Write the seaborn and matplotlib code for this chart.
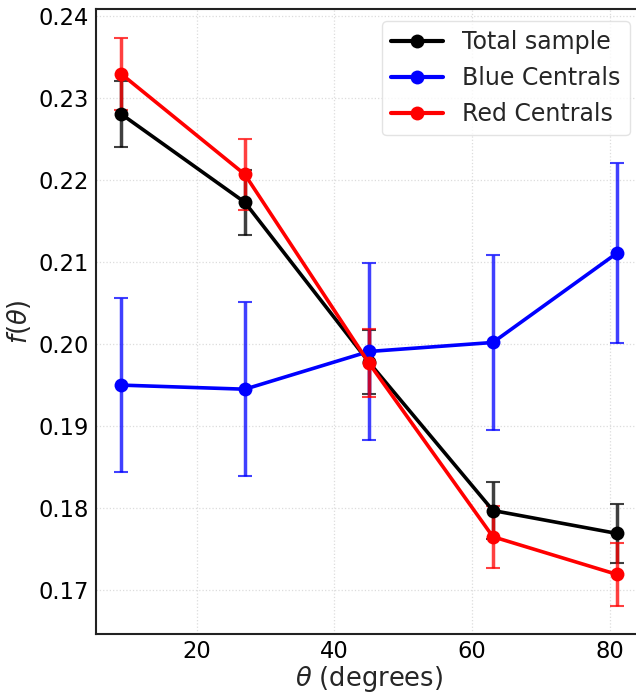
import matplotlib
matplotlib.use("Agg")
import matplotlib.pyplot as plt
import seaborn as sns
import pandas as pd

# Angle bins (degrees) and f(theta) per sample
theta = [9, 27, 45, 63, 81]

total_f = [0.2281, 0.2173, 0.1978, 0.1797, 0.1769]
total_err = [0.0040, 0.0040, 0.0039, 0.0035, 0.0036]

blue_f = [0.1950, 0.1945, 0.1991, 0.2002, 0.2111]
blue_err = [0.0106, 0.0106, 0.0108, 0.0107, 0.0110]

red_f = [0.2330, 0.2207, 0.1977, 0.1765, 0.1719]
red_err = [0.0044, 0.0043, 0.0041, 0.0038, 0.0038]

labels = ["Total sample", "Blue Centrals", "Red Centrals"]
colors = ["black", "blue", "red"]
yticks = [0.17, 0.18, 0.19, 0.20, 0.21, 0.22, 0.23, 0.24]
xticks = [20, 40, 60, 80]

sns.set_theme(style="whitegrid")
plt.rcParams["font.family"] = ["DejaVu Sans"]

frames = []
for lab, f, e in zip(labels, [total_f, blue_f, red_f], [total_err, blue_err, red_err]):
    frames.append(pd.DataFrame({"theta": theta, "f": f, "err": e, "sample": lab}))
df = pd.concat(frames, ignore_index=True)

fig = plt.figure(figsize=(6.36, 6.95), dpi=100)
ax = fig.add_axes([0.151, 0.0878, 0.858, 0.899])

# error bars underneath the lines
for lab, col in zip(labels, colors):
    sub = df[df["sample"] == lab]
    ax.errorbar(sub["theta"], sub["f"], yerr=sub["err"], fmt="none",
                ecolor=col, elinewidth=2.5, capsize=5, capthick=1.5,
                alpha=0.75, zorder=2)

sns.lineplot(data=df, x="theta", y="f", hue="sample", hue_order=labels,
             palette=dict(zip(labels, colors)), marker="o", markersize=10,
             markeredgewidth=0, linewidth=2.6, ax=ax, zorder=3)

ax.set_xlabel(r"$\theta$ (degrees)", fontsize=18.5, labelpad=1)
ax.set_ylabel(r"$f(\theta)$", fontsize=18.5, labelpad=4)
ax.set_xticks(xticks)
ax.set_yticks(yticks)
ax.set_yticklabels([f"{v:.2f}" for v in yticks])
ax.tick_params(axis="both", labelsize=16.3, length=0, colors="black")
ax.tick_params(axis="x", pad=4)
ax.tick_params(axis="y", pad=5)

ax.grid(True, color="#dcdcdc", linestyle=":", linewidth=0.9)
for s in ax.spines.values():
    s.set_color("#222222")
    s.set_linewidth(1.5)

leg = ax.legend(loc="upper right", fontsize=17, frameon=True, handlelength=2.2,
                borderaxespad=0.5)
leg.set_title(None)
leg.get_frame().set_edgecolor("#dddddd")
for h in leg.legend_handles:
    h.set_linewidth(3.0)

fig.savefig("out.png", dpi=100)
